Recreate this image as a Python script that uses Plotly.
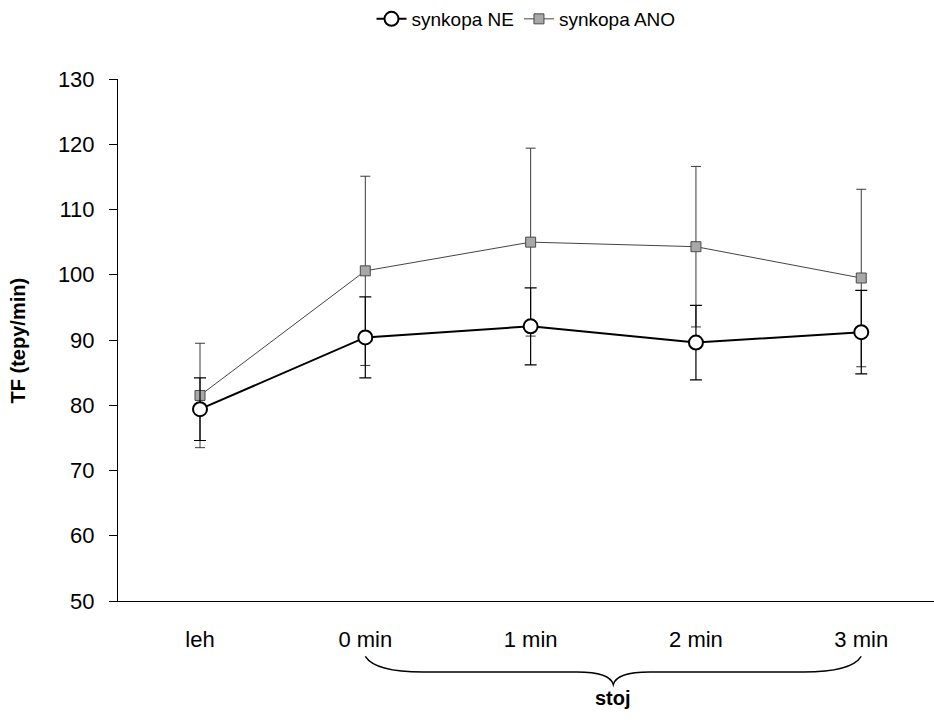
import plotly.graph_objects as go

# Heart rate (TF) while lying and standing, by syncope group
categories = ["leh", "0 min", "1 min", "2 min", "3 min"]
ne_mean = [79.4, 90.4, 92.1, 89.6, 91.2]
ne_sd = [4.8, 6.2, 5.9, 5.7, 6.4]
ano_mean = [81.5, 100.6, 105.0, 104.3, 99.5]
ano_sd = [8.0, 14.5, 14.4, 12.3, 13.6]
y_ticks = [50, 60, 70, 80, 90, 100, 110, 120, 130]

pos = list(range(len(categories)))
FONT = "Liberation Sans, Arial, sans-serif"

fig = go.Figure()

fig.add_trace(go.Scatter(
    x=pos, y=ano_mean, name="synkopa ANO", mode="lines+markers",
    line=dict(color="#444444", width=1),
    marker=dict(symbol="square", size=10, color="#a8a8a8",
                line=dict(color="#4a4a4a", width=1)),
    error_y=dict(type="data", array=ano_sd, visible=True,
                 color="#3a3a3a", thickness=1, width=5),
    legendrank=2,
))

fig.add_trace(go.Scatter(
    x=pos, y=ne_mean, name="synkopa NE", mode="lines+markers",
    line=dict(color="black", width=2),
    marker=dict(symbol="circle", size=14, color="white",
                line=dict(color="black", width=2)),
    error_y=dict(type="data", array=ne_sd, visible=True,
                 color="black", thickness=1.2, width=6),
    legendrank=1,
))

# Curly brace grouping the standing measurements
x0, x1 = pos[1], pos[-1]
xm = (x0 + x1) / 2
top, mid, tip = -0.106, -0.136, -0.160
brace = (
    f"M {x0},{top} Q {x0 + 0.06},{mid} {x0 + 0.35},{mid} "
    f"L {xm - 0.22},{mid} Q {xm - 0.02},{mid} {xm},{tip} "
    f"Q {xm + 0.02},{mid} {xm + 0.22},{mid} "
    f"L {x1 - 0.35},{mid} Q {x1 - 0.06},{mid} {x1},{top}"
)
fig.add_shape(type="path", path=brace, xref="x", yref="paper",
              line=dict(color="black", width=1.5))

fig.add_annotation(x=xm, y=-0.186, xref="x", yref="paper", text="<b>stoj</b>",
                   showarrow=False, font=dict(family=FONT, size=20, color="black"),
                   yanchor="middle")

# Y-axis title, placed near the left edge
fig.add_annotation(x=-0.122, y=0.5, xref="paper", yref="paper",
                   text="<b>TF (tepy/min)</b>", textangle=-90, showarrow=False,
                   font=dict(family=FONT, size=20, color="black"),
                   xanchor="center", yanchor="middle")

fig.update_layout(
    width=934, height=727,
    margin=dict(l=118, r=0, t=79, b=126),
    paper_bgcolor="white", plot_bgcolor="white",
    font=dict(family=FONT, color="black"),
    showlegend=True,
    legend=dict(orientation="h", x=0.5, xanchor="center",
                y=1.0, yref="container", yanchor="top",
                font=dict(family=FONT, size=19), itemwidth=30,
                bgcolor="rgba(0,0,0,0)"),
    xaxis=dict(
        range=[-0.496, 4.44], tickmode="array", tickvals=pos, ticktext=categories,
        showline=True, linecolor="black", linewidth=1, ticks="",
        showgrid=False, zeroline=False, ticklabelstandoff=19,
        tickfont=dict(family=FONT, size=22),
    ),
    yaxis=dict(
        range=[50, 130], tickmode="array", tickvals=y_ticks,
        showline=True, linecolor="black", linewidth=1,
        ticks="outside", ticklen=8, tickcolor="black",
        showgrid=False, zeroline=False, ticklabelstandoff=10,
        tickfont=dict(family=FONT, size=22),
    ),
)

fig.write_html("out.html")
